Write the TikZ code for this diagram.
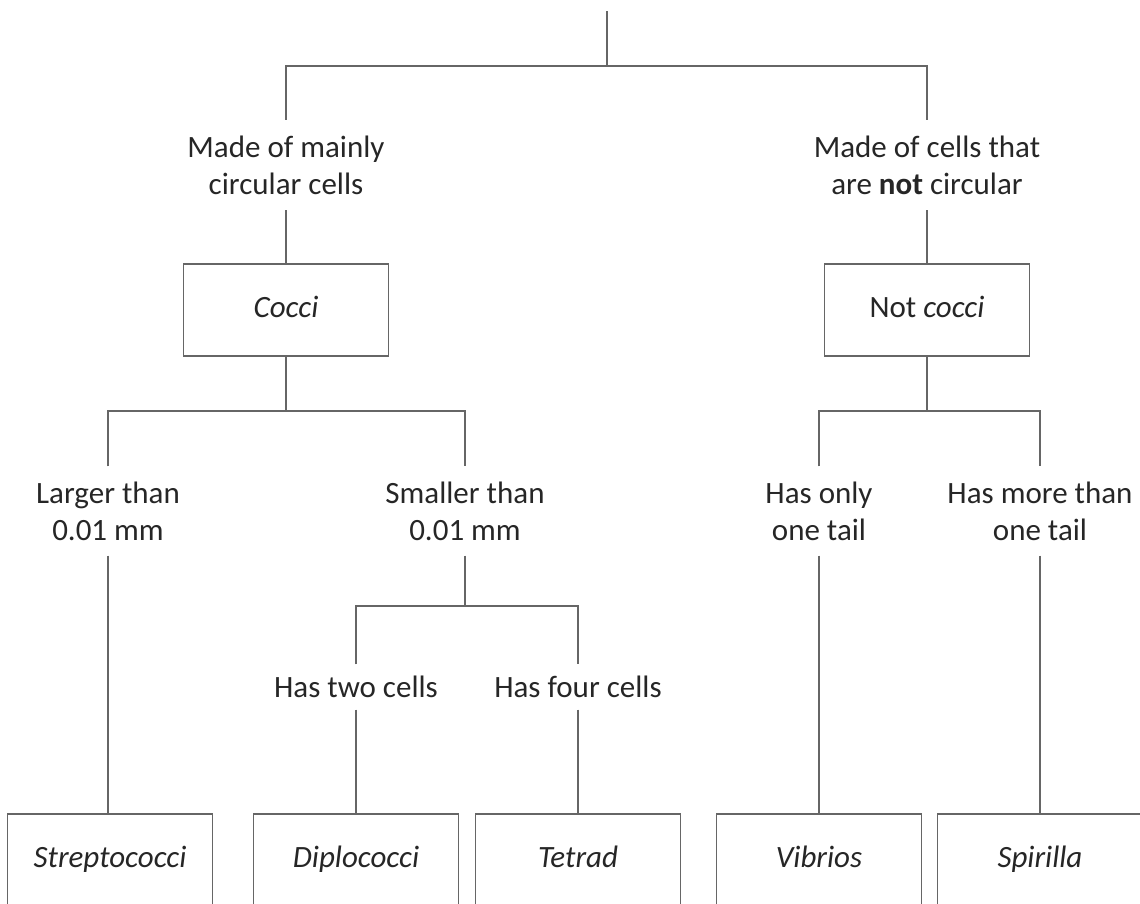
\documentclass[tikz,border=0pt]{standalone}
\usepackage{fontspec}
\setmainfont{Carlito}

\begin{document}
\begin{tikzpicture}[x=1pt, y=-1pt, every node/.style={font=\fontsize{31}{37}\selectfont, text=black!85}]

\tikzstyle{taxon} = [rectangle, draw=black!60, line width=1.4pt, minimum width=205pt, minimum height=92pt, inner sep=0pt, text height=21pt, text depth=6pt, font=\fontsize{31}{37}\selectfont\itshape]
\tikzstyle{rule} = [inner sep=0pt, align=center]
\tikzstyle{link} = [draw=black!60, line width=1.4pt]

\clip (0, 0) rectangle (1140, 903);

\coordinate (top) at (607, 11);
\coordinate (fork) at (607, 66);

\node[rule, minimum height=90pt] (round) at (286, 165) {Made of mainly\\circular cells};
\node[rule, minimum height=90pt] (notround) at (927, 165) {Made of cells that\\are \textbf{not} circular};

\node[taxon] (cocci) at (286, 310) {Cocci};
\node[taxon] (notcocci) at (927, 310) {{\upshape Not} cocci};

\coordinate (coccifork) at (286, 411);
\coordinate (notcoccifork) at (927, 411);

\node[rule, minimum height=89pt] (larger) at (108, 511) {Larger than\\0.01 mm};
\node[rule, minimum height=89pt] (smaller) at (465, 511) {Smaller than\\0.01 mm};
\node[rule, minimum height=89pt] (onetail) at (819, 511) {Has only\\one tail};
\node[rule, minimum height=89pt] (moretails) at (1040, 511) {Has more than\\one tail};

\coordinate (smallfork) at (465, 606);

\node[rule, minimum height=45pt] (twocells) at (356, 687) {Has two cells};
\node[rule, minimum height=45pt] (fourcells) at (578, 687) {Has four cells};

\node[taxon] (strepto) at (110, 860) {Streptococci};
\node[taxon] (diplo) at (356, 860) {Diplococci};
\node[taxon] (tetrad) at (578, 860) {Tetrad};
\node[taxon] (vibrios) at (819, 860) {Vibrios};
\node[taxon] (spirilla) at (1040, 860) {Spirilla};

\draw[link] (top) -- (fork);
\draw[link] (round.north) |- (fork) -| (notround.north);
\draw[link] (round.south) -- (cocci.north);
\draw[link] (notround.south) -- (notcocci.north);

\draw[link] (cocci.south) -- (coccifork);
\draw[link] (larger.north) |- (coccifork) -| (smaller.north);
\draw[link] (notcocci.south) -- (notcoccifork);
\draw[link] (onetail.north) |- (notcoccifork) -| (moretails.north);

\draw[link] (larger.south) -- (larger.south |- strepto.north);
\draw[link] (smaller.south) -- (smallfork);
\draw[link] (twocells.north) |- (smallfork) -| (fourcells.north);
\draw[link] (twocells.south) -- (diplo.north);
\draw[link] (fourcells.south) -- (tetrad.north);
\draw[link] (onetail.south) -- (vibrios.north);
\draw[link] (moretails.south) -- (spirilla.north);

\end{tikzpicture}
\end{document}
